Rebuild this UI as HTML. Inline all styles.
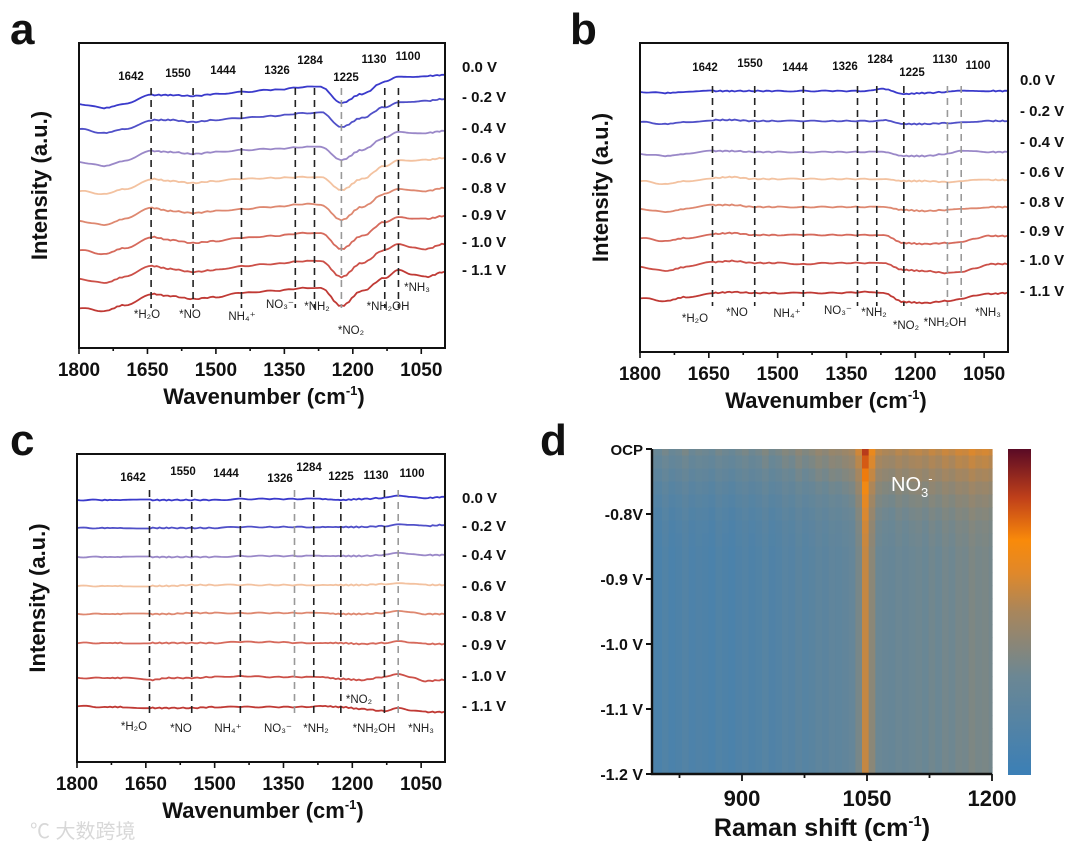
<!DOCTYPE html>
<html><head><meta charset="utf-8">
<style>
html,body{margin:0;padding:0;background:#fff;}
svg{display:block;font-family:"Liberation Sans","Noto Sans CJK SC",sans-serif;}
.t{font-weight:bold;fill:#111;}
</style></head>
<body>
<svg id="fig" width="1080" height="852" viewBox="0 0 1080 852" xmlns="http://www.w3.org/2000/svg">
<defs>
<linearGradient id="cbar" x1="0" y1="1" x2="0" y2="0">
<stop offset="0" stop-color="#3b7fb6"/><stop offset="0.3" stop-color="#6b8794"/><stop offset="0.5" stop-color="#a8865c"/><stop offset="0.62" stop-color="#e0882a"/><stop offset="0.72" stop-color="#f98a0a"/><stop offset="0.85" stop-color="#c0401a"/><stop offset="1" stop-color="#5a0a25"/>
</linearGradient>
</defs>
<text x="10" y="44" class="t" font-size="44">a</text>
<text x="570" y="44" class="t" font-size="44">b</text>
<text x="10" y="455" class="t" font-size="44">c</text>
<text x="540" y="455" class="t" font-size="44">d</text>
<text x="30" y="838" font-size="20" fill="#d8d8d8">℃ 大数跨境</text>
</svg>
<script>
const svgNS="http://www.w3.org/2000/svg";
const fig=document.getElementById('fig');
// ---------- data ----------
const knots=[1800,1745,1700,1640,1600,1550,1500,1444,1380,1300,1270,1225,1180,1130,1100,1070,1040,1000];
const potentials=["0.0 V","- 0.2 V","- 0.4 V","- 0.6 V","- 0.8 V","- 0.9 V","- 1.0 V","- 1.1 V"];
const colors=["#3a3acb","#5050c8","#9a88c8","#f3c2a0","#de8870","#d66a5c","#cc5048","#c03a35"];
const xTicks=[1800,1650,1500,1350,1200,1050];
const peaks=[1642,1550,1444,1326,1284,1225,1130,1100];
const offsetsA=[0,25,58,87,117,146,175,204];
const offsetsB=[0,30,62,89,117,146,175,206];
const offsetsC=[0,28,57,86,114,143,178,206];
const specA=[
[0,-4,0,9,9,8,10,12,14,17,17,1,10,22,27,27,28,29],
[0,-4,0,9,9,7,9,11,13,16,17,2,11,22,27,27,28,30],
[0,-4,1,11,10,8,10,12,13,15,15,2,12,24,30,29,29,31],
[0,-3,2,12,10,8,10,12,13,14,14,1,12,25,31,30,31,33],
[0,-4,2,13,10,8,10,12,14,17,16,1,14,27,32,31,30,33],
[0,-4,2,13,10,7,9,12,14,17,17,1,14,28,33,31,31,34],
[0,-4,2,13,10,7,9,13,15,18,18,2,16,29,35,32,30,35],
[0,-3,3,14,12,9,11,15,17,20,20,2,17,30,38,33,31,36]];
const specB=[
[0,-1,0,1,1,1,1,1,1,1,3,-2,-1,0,1,1,1,1],
[0,-2,0,2,2,1,1,1,1,1,2,-2,-2,-1,0,0,1,1],
[0,-2,0,3,3,2,2,2,2,2,2,-2,-2,0,3,3,2,2],
[0,-3,0,3,4,2,2,2,2,2,2,0,0,-1,0,1,1,1],
[0,-3,0,4,4,2,2,2,2,2,2,-1,-2,-1,0,1,2,2],
[0,-3,0,4,5,3,3,3,3,3,3,-5,-6,-5,-4,-1,2,2],
[0,-4,0,5,6,4,4,3,4,4,4,-3,-4,-6,-5,-1,3,3],
[0,-3,1,5,6,5,5,5,5,6,5,-4,-5,-3,-1,2,4,5]];
const specC=[
[0,0,0,0,0,0,0,1,1,1,1,0,1,2,4,3,2,3],
[0,0,0,0,0,0,0,1,1,1,1,1,1,2,4,3,2,3],
[0,0,0,0,0,0,0,1,1,1,1,1,1,2,4,3,2,2],
[0,0,0,0,0,1,1,1,1,1,1,1,1,2,3,2,1,1],
[0,0,0,0,0,1,1,1,1,1,1,0,0,1,3,2,0,0],
[0,0,0,0,0,0,0,1,1,0,0,0,-1,0,2,0,-1,-1],
[0,0,0,-2,0,0,1,2,1,1,1,-1,-2,1,4,1,-3,-2],
[0,-1,-1,-2,-2,-2,-1,-1,-1,-1,0,-1,-3,-5,-2,-5,-6,-6]];
// heatmap
const hmWn=[792,800,808,816,824,832,840,848,856,864,872,880,888,896,904,912,920,928,936,944,952,960,968,976,984,992,1000,1008,1016,1024,1032,1040,1048,1056,1064,1072,1080,1088,1096,1104,1112,1120,1128,1136,1144,1152,1160,1168,1176,1184,1192,1200];
const hmCol=[.12,.1,.14,.1,.12,.15,.11,.13,.12,.1,.14,.12,.1,.13,.15,.12,.14,.17,.13,.15,.18,.16,.2,.17,.19,.22,.2,.23,.22,.24,.26,.34,.56,.4,.3,.28,.27,.3,.28,.3,.31,.29,.32,.3,.33,.31,.34,.33,.36,.34,.35,.33];
const hmRows=[-0.70,-0.72,-0.74,-0.76,-0.78,-0.80,-0.82,-0.84,-0.86,-0.88,-0.90,-0.92,-0.94,-0.96,-0.98,-1.00,-1.02,-1.04,-1.06,-1.08,-1.10,-1.12,-1.14,-1.16,-1.18,-1.20];
const hmBoost=[.26,.21,.16,.11,.07,.04,.02,.01,0,0,0,0,0,0,0,0,0,0,0,0,0,0,0,0,0,0];
const hmYTicks=[-0.7,-0.8,-0.9,-1.0,-1.1,-1.2];
const hmYLabels=["OCP","-0.8V","-0.9 V","-1.0 V","-1.1 V","-1.2 V"];
const hmXTicks=[900,1050,1200];

function el(tag,attrs,parent){const e=document.createElementNS(svgNS,tag);for(const k in attrs)e.setAttribute(k,attrs[k]);(parent||fig).appendChild(e);return e;}

const panels=[
 {id:'a',x0:79,x1:445,y0:43,y1:348,base:104,offs:offsetsA,spec:specA,vx:462,vy:[67,97,128,158,188,215,242,270],
  dashTop:88,dashBot:308,gray:[1225],
  peakPos:[[131,80],[178,77],[223,74],[277,74],[310,64],[346,81],[374,63],[408,60]],
  spPos:[[147,318],[190,318],[242,320],[280,308],[317,310],[351,334],[388,310],[417,291]]},
 {id:'b',x0:640,x1:1008,y0:43,y1:352,base:92,offs:offsetsB,spec:specB,vx:1020,vy:[80,111,142,172,202,231,260,291],
  dashTop:86,dashBot:306,gray:[1130,1100],
  peakPos:[[705,71],[750,67],[795,71],[845,70],[880,63],[912,76],[945,63],[978,69]],
  spPos:[[695,322],[737,316],[787,317],[838,314],[874,316],[906,329],[945,326],[988,316]]},
 {id:'c',x0:77,x1:445,y0:454,y1:762,base:500,offs:offsetsC,spec:specC,vx:462,vy:[498,526,555,586,616,645,676,706],
  dashTop:490,dashBot:716,gray:[1326,1100],
  peakPos:[[133,481],[183,475],[226,477],[280,482],[309,471],[341,480],[376,479],[412,477]],
  spPos:[[134,730],[181,732],[228,732],[278,732],[316,732],[359,703],[374,732],[421,732]]}
];
const spNames=['*H₂O','*NO','NH₄⁺','NO₃⁻','*NH₂','*NO₂','*NH₂OH','*NH₃'];

panels.forEach(p=>{
  const wnMin=998,wnMax=1800;
  const xs=w=>p.x0+(wnMax-w)/(wnMax-wnMin)*(p.x1-p.x0);
  const ys=v=>p.base+v;
  const g=el('g',{});
  
  
  p.spec.forEach((s,i)=>{
    let d='';
    for(let k=0;k<knots.length-1;k++){
      const w0=knots[k],w1=knots[k+1];
      const steps=8;
      for(let j=(k==0?0:1);j<=steps;j++){
        const t=j/steps, w=w0+(w1-w0)*t;
        const tt=(1-Math.cos(Math.PI*t))/2;
        const v=s[k]+(s[k+1]-s[k])*tt;
        const nz=Math.sin(w*1.7+i*3)*0.5;
        d+=(d?'L':'M')+xs(w).toFixed(1)+','+(ys(p.offs[i])-v+nz).toFixed(1);
      }
    }
    const path=el('path',{d:d,fill:'none',stroke:colors[i],'stroke-width':1.8},g);
    
    
    const lt=el('text',{x:p.vx,y:p.vy[i]+5,'font-size':15,class:'t'},g);
    lt.textContent=potentials[i];
    
    
  });
  peaks.forEach((w,i)=>{
    const ln=el('line',{x1:xs(w),x2:xs(w),y1:p.dashTop,y2:p.dashBot,stroke:p.gray.includes(w)?'#999':'#222','stroke-width':1.6,'stroke-dasharray':'7,5'},g);
    
    
    const pt=el('text',{x:p.peakPos[i][0],y:p.peakPos[i][1],'font-size':11.5,class:'t','text-anchor':'middle'},g);
    pt.textContent=w;
    
    
    const st=el('text',{x:p.spPos[i][0],y:p.spPos[i][1],'font-size':11.5,fill:'#222','text-anchor':'middle'},g);
    st.textContent=spNames[i];
    
    
  });
  const fr=el('rect',{x:p.x0,y:p.y0,width:p.x1-p.x0,height:p.y1-p.y0,fill:'none',stroke:'#111','stroke-width':2},g);
  
  
  for(let w=1800;w>=1000;w-=75){
    const major=(1800-w)%150===0;
    const tk=el('line',{x1:xs(w),x2:xs(w),y1:p.y1,y2:p.y1+(major?6:3),stroke:'#111','stroke-width':1.6},g);
    
    
  }
  xTicks.forEach(w=>{
    const tl=el('text',{x:xs(w),y:p.y1+28,'font-size':19,class:'t','text-anchor':'middle'},g);
    tl.textContent=w;
    
    
  });
  const cx=(p.x0+p.x1)/2+2;
  const xt=el('text',{x:cx,y:p.y1+56,'font-size':22,class:'t','text-anchor':'middle'},g);
  xt.innerHTML='Wavenumber (cm<tspan font-size="13" dy="-9">-1</tspan><tspan dy="9">)</tspan>';
  
  
  const yx=p.x0-32, yy=(p.y0+p.y1)/2-10;
  const yt=el('text',{x:yx,y:yy,'font-size':22,class:'t','text-anchor':'middle',transform:`rotate(-90 ${yx} ${yy})`},g);
  yt.textContent='Intensity (a.u.)';
  
  
});

// ---------- heatmap d ----------
const H={x0:652,x1:992,y0:449,y1:774,wMin:792,wMax:1200,pTop:-0.7,pBot:-1.2};
const hx=w=>H.x0+(w-H.wMin)/(H.wMax-H.wMin)*(H.x1-H.x0);
const hy=v=>H.y0+(H.pTop-v)/(H.pTop-H.pBot)*(H.y1-H.y0);
const stops=[[0,[59,127,182]],[0.3,[107,135,148]],[0.5,[168,134,92]],[0.62,[224,136,42]],[0.72,[249,138,10]],[0.85,[192,64,26]],[1,[90,10,37]]];
function cmap(v){v=Math.max(0,Math.min(1,v));for(let i=0;i<stops.length-1;i++){const a=stops[i],b=stops[i+1];if(v<=b[0]){const t=(v-a[0])/(b[0]-a[0]);return 'rgb('+a[1].map((c,j)=>Math.round(c+(b[1][j]-c)*t)).join(',')+')';}}return 'rgb(90,10,37)';}
const hg=el('g',{});


const dw=(H.wMax-H.wMin)/(hmWn.length-1), dp=0.02;
hmRows.forEach((pv,r)=>{
  hmWn.forEach((w,c)=>{
    const v=hmCol[c]+hmBoost[r]*(0.6+hmCol[c]);
    const xa=hx(Math.max(H.wMin,w-dw/2)), xb=hx(Math.min(H.wMax,w+dw/2));
    const ya=hy(Math.min(H.pTop,pv+dp/2)), yb=hy(Math.max(H.pBot,pv-dp/2));
    const cell=el('rect',{x:xa.toFixed(2),y:ya.toFixed(2),width:(xb-xa+0.6).toFixed(2),height:(yb-ya+0.6).toFixed(2),fill:cmap(v)},hg);
    
    
  });
});
const hf=el('path',{d:`M${H.x0},${H.y0}V${H.y1}H${H.x1}`,fill:'none',stroke:'#111','stroke-width':2.4});


hmYTicks.forEach((v,i)=>{
  const tk=el('line',{x1:H.x0-6,x2:H.x0,y1:hy(v),y2:hy(v),stroke:'#111','stroke-width':2});
  
  
  const tl=el('text',{x:H.x0-9,y:hy(v)+6,'font-size':i==0?15:16,class:'t','text-anchor':'end'});
  tl.textContent=hmYLabels[i];
  
  
});
for(let w=825;w<=1200;w+=75){
  const major=hmXTicks.includes(w);
  const tk=el('line',{x1:hx(w),x2:hx(w),y1:H.y1,y2:H.y1+(major?7:4),stroke:'#111','stroke-width':1.8});
  
  
}
hmXTicks.forEach(w=>{
  const tl=el('text',{x:hx(w),y:H.y1+32,'font-size':22,class:'t','text-anchor':'middle'});
  tl.textContent=w;
  
  
});
const ht=el('text',{x:822,y:836,'font-size':25,class:'t','text-anchor':'middle'});
ht.innerHTML='Raman shift (cm<tspan font-size="15" dy="-10">-1</tspan><tspan dy="10">)</tspan>';


const nl=el('text',{x:891,y:491,'font-size':20,fill:'#fff'});
nl.innerHTML='NO<tspan font-size="13" dy="6">3</tspan><tspan font-size="13" dy="-14">-</tspan>';


const cb=el('rect',{x:1008,y:449,width:23,height:326,fill:'url(#cbar)'});


</script>
</body></html>
